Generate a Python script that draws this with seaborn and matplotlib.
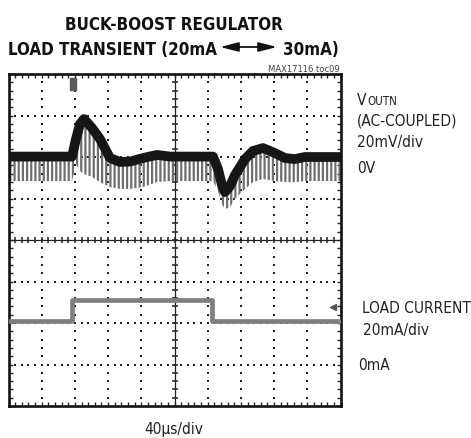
import matplotlib
matplotlib.use("Agg")
import matplotlib.pyplot as plt
import seaborn as sns
import numpy as np
import pandas as pd
from matplotlib import font_manager as fm
from matplotlib.ticker import MultipleLocator
from matplotlib.font_manager import FontProperties

# ---------------- data ----------------
# VOUTN (AC-coupled) band centre, time in µs, value in mV
vout_t = [0, 38, 76.5, 81.3, 86.1, 91.0, 100.6, 110.2, 122.3, 134.3, 146.4, 162.0,
          178.9, 194.6, 224.7, 246.4, 252.4, 257.2, 260.8, 266.9, 272.9, 284.9,
          294.6, 306.6, 321.1, 333.1, 345.1, 357.1, 400]
vout_mv = [0.2, 0.2, 0.2, 8.7, 15.9, 18.3, 14.0, 8.7, -0.5, -2.4, -2.2, -0.5,
           1.0, 0.2, 0.2, 0.2, -5.8, -13.5, -16.9, -14.0, -8.7, -1.0,
           2.9, 4.3, 1.9, -0.5, -1.0, 0.0, 0.0]
# lower tips of the switching ripple spikes (mV)
ripple_tip_mv = [-11.6, -11.6, -11.6, -3.4, -6.8, -8.2, -9.6, -12.1, -14.5, -15.4, -15.4, -14.5,
                 -12.1, -11.6, -11.6, -11.6, -16.4, -22.7, -25.1, -24.1, -20.2, -15.4,
                 -12.1, -10.6, -11.6, -12.1, -12.1, -11.6, -11.6]
# load current step (µs, mA)
load_t = [0, 76.3, 76.3, 244.8, 244.8, 400]
load_ma = [20, 20, 30, 30, 20, 20]

title_line1 = "BUCK-BOOST REGULATOR"
title_left = "LOAD TRANSIENT (20mA"
title_right = "30mA)"
code_label = "MAX17116 toc09"
time_label = "40\u00b5s/div"

# ---------------- style ----------------
sns.set_style("white")
plt.rcParams["font.family"] = ["Liberation Sans", "DejaVu Sans"]
plt.rcParams["hatch.linewidth"] = 1.6
plt.rcParams["hatch.color"] = "#6e6e6e"


def pick_fonts():
    """Prefer a condensed sans face if one is installed."""
    cands = [f for f in fm.fontManager.ttflist
             if ("Narrow" in f.name or "Condensed" in f.name or "Condensed" in f.fname
                 or "Narrow" in f.fname or str(f.stretch) in ("condensed", "semi-condensed"))
             and f.style == "normal"]
    reg = [f for f in cands if f.weight in (400, "normal", "regular")]
    bold = [f for f in cands if f.weight in (700, "bold")]
    if reg and bold:
        return FontProperties(fname=reg[0].fname), FontProperties(fname=bold[0].fname)
    return (FontProperties(family=["Liberation Sans", "DejaVu Sans"]),
            FontProperties(family=["Liberation Sans", "DejaVu Sans"], weight="bold"))


FP_REG, FP_BOLD = pick_fonts()

W, H = 471, 439
fig = plt.figure(figsize=(W / 100, H / 100), dpi=100)
fig.patch.set_facecolor("white")
renderer = fig.canvas.get_renderer()

L, R, T, B = 8.5, 340.5, 75, 407
ax = fig.add_axes([L / W, 1 - B / H, (R - L) / W, (B - T) / H])
ax.set_xlim(0, 400)
ax.set_ylim(-120, 40)          # 20 mV/div, 8 div
ax2 = ax.twinx()
ax2.set_axis_off()

# border
for s in ax.spines.values():
    s.set_visible(True)
    s.set_linewidth(1.9)
    s.set_color("#111111")
ax.xaxis.set_major_locator(MultipleLocator(40))
ax.yaxis.set_major_locator(MultipleLocator(20))
ax.xaxis.set_minor_locator(MultipleLocator(8))
ax.yaxis.set_minor_locator(MultipleLocator(4))
ax.tick_params(which="both", direction="in", length=3, width=1, color="#222222",
               top=True, bottom=True, left=True, right=True,
               labelbottom=False, labelleft=False, labeltop=False, labelright=False)

# dotted graticule
xs_minor = np.arange(8, 400, 8)
ys_minor = np.arange(-116, 40, 4)
for k in range(1, 10):
    if k == 5:
        continue
    ax.plot(np.full(len(ys_minor), 40 * k), ys_minor, ls="none", marker="s",
            ms=1.6, mew=0, color="#222222", zorder=1)
for m in range(1, 8):
    if m == 4:
        continue
    yv = -120 + 20 * m
    ax.plot(xs_minor, np.full(len(xs_minor), yv), ls="none", marker="s",
            ms=1.6, mew=0, color="#222222", zorder=1)
# centre cross with ticks
ax.axvline(200, color="#222222", lw=0.9, zorder=1)
ax.axhline(-40, color="#222222", lw=0.9, zorder=1)
ax.plot(xs_minor, np.full(len(xs_minor), -40), ls="none", marker="|", ms=5,
        mew=1.1, color="#222222", zorder=1)
ax.plot(np.full(len(ys_minor), 200), ys_minor, ls="none", marker="_", ms=5,
        mew=1.1, color="#222222", zorder=1)

# ripple spikes (grey hatching below the band)
ax.fill_between(vout_t, ripple_tip_mv, vout_mv, facecolor="none",
                edgecolor="#6e6e6e", hatch="||||", linewidth=0, zorder=2)
# VOUT band
df_v = pd.DataFrame({"t": vout_t, "v": vout_mv})
sns.lineplot(data=df_v, x="t", y="v", ax=ax, color="#161616", linewidth=7.0,
             estimator=None, sort=False, zorder=3, solid_joinstyle="round")
ax.set_xlabel("")
ax.set_ylabel("")

# load current
df_i = pd.DataFrame({"t": load_t, "i": load_ma})
sns.lineplot(data=df_i, x="t", y="i", ax=ax2, color="#808080", linewidth=3.4,
             estimator=None, sort=False, zorder=3)
ax2.set_xlim(0, 400)
ax2.set_ylim(-21.2, 138.8)
ax2.set_axis_off()

# markers: trigger and ch2 offset
trig = [[-0.5, -1], [0.5, -1], [0.5, 1], [-0.5, 1], [-0.5, -1]]
ax.plot([77.7], [35.2], ls="none", marker=trig, ms=9, color="#5a5a5a", zorder=4, clip_on=False)
ax2.plot([391], [26.7], ls="none", marker="<", ms=5, color="#555555", zorder=4)

# ---------------- texts ----------------
def fx(px):
    return px / W


def fy(py):
    return 1 - py / H


def fitted_size(text, fp, target_px, base=12.0):
    t = fig.text(0, 0, text, fontproperties=fp, fontsize=base)
    w = t.get_window_extent(renderer).width
    t.remove()
    return base * target_px / w


def put(px, py, text, fp, size, ha="left", color="#222222"):
    return fig.text(fx(px), fy(py), text, ha=ha, va="baseline",
                    fontproperties=fp, fontsize=size, color=color)


ts = fitted_size(title_line1, FP_BOLD, 218)
put(174, 30, title_line1, FP_BOLD, ts, ha="center", color="#111111")
put(217, 55, title_left, FP_BOLD, ts, ha="right", color="#111111")
put(283, 55, title_right, FP_BOLD, ts, ha="left", color="#111111")
fig.add_artist(matplotlib.patches.FancyArrowPatch(
    (fx(220), fy(48)), (fx(277), fy(48)), transform=fig.transFigure,
    arrowstyle="<|-|>,head_length=1.1,head_width=0.28", mutation_scale=10,
    color="#111111", lw=1.3, shrinkA=0, shrinkB=0))
cs = fitted_size(code_label, FP_REG, 72)
put(340, 72, code_label, FP_REG, cs, ha="right", color="#444444")

ls_ = 0.5 * (fitted_size("LOAD CURRENT", FP_REG, 108) + fitted_size("(AC-COUPLED)", FP_REG, 101))
tv = put(357, 105, "V", FP_REG, ls_)
vx = tv.get_window_extent(renderer).x1
fig.text(vx / W + 0.5 / W, fy(105), "OUTN", ha="left", va="baseline",
         fontproperties=FP_REG, fontsize=ls_ * 0.75, color="#222222")
put(357, 126, "(AC-COUPLED)", FP_REG, ls_)
put(357, 147, "20mV/div", FP_REG, ls_)
put(357, 173, "0V", FP_REG, ls_)
put(362, 313, "LOAD CURRENT", FP_REG, ls_)
put(363, 335, "20mA/div", FP_REG, ls_)
put(358, 370, "0mA", FP_REG, ls_)
put(173.5, 434, time_label, FP_REG, ls_, ha="center")

fig.savefig("out.png", dpi=100, facecolor="white")
